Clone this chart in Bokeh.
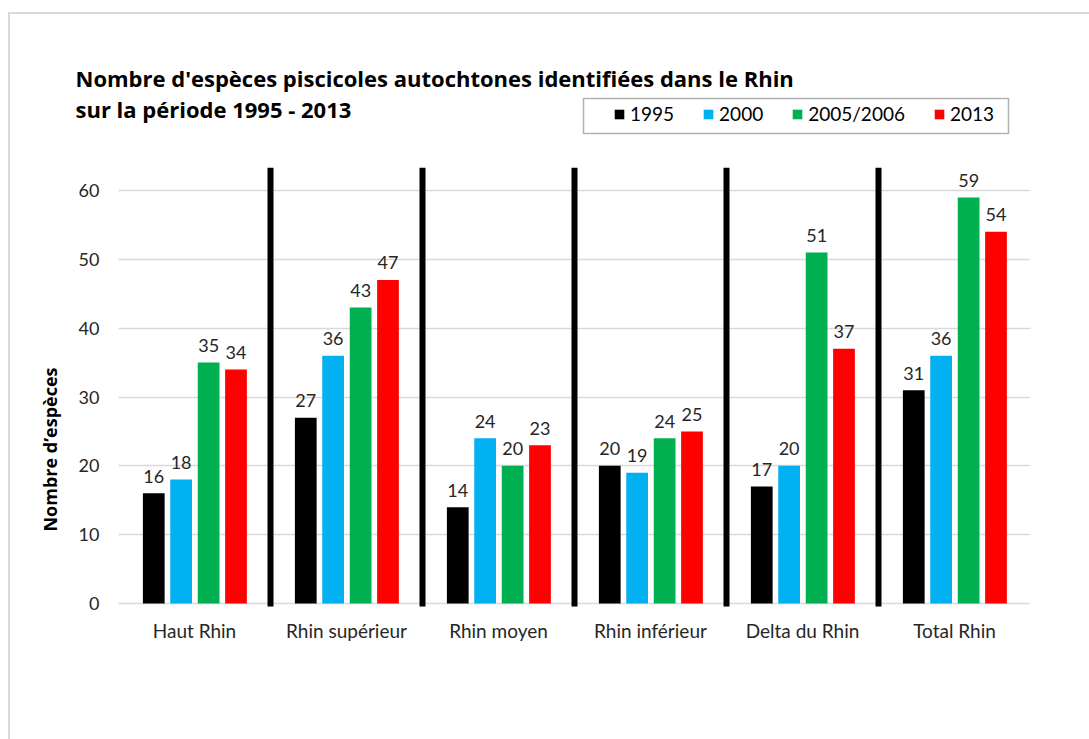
import math
import numpy as np
from bokeh.plotting import figure
from bokeh.models import (ColumnDataSource, Range1d, FixedTicker, Legend, LegendItem,
                          Label, BoxAnnotation)
from bokeh.core.properties import value
from bokeh.embed import file_html
from bokeh.resources import INLINE

categories = ["Haut Rhin", "Rhin supérieur", "Rhin moyen", "Rhin inférieur", "Delta du Rhin", "Total Rhin"]
series_names = ["1995", "2000", "2005/2006", "2013"]
v1995 = [16, 27, 14, 20, 17, 31]
v2000 = [18, 36, 24, 19, 20, 36]
v2005 = [35, 43, 20, 24, 51, 59]
v2013 = [34, 47, 23, 25, 37, 54]
y_ticks = [0, 10, 20, 30, 40, 50, 60]
colors = ["#000000", "#00B0F0", "#00B050", "#FF0000"]
title_lines = ["Nombre d'espèces piscicoles autochtones identifiées dans le Rhin",
               "sur la période 1995 - 2013"]
y_title = "Nombre d\u2019espèces"

FONT = "Lato"
TFONT = "Open Sans"
series = [v1995, v2000, v2005, v2013]

W, H = 1089, 739
FL, FR, FT, FB = 34, 1030, 5, 650      # frame edges (px)
X0 = 118                                # left edge of first category (px)
CAT_W = (FR - X0) / len(categories)     # px per category
PX_PER_UNIT = 6.883                     # px per y unit
Y0_PX = 603                             # pixel row of y=0
AXIS_PX = 606                           # pixel row of the category axis

x_start = -(X0 - FL) / CAT_W
x_end = (FR - X0) / CAT_W
y_start = -(FB - Y0_PX) / PX_PER_UNIT
y_end = (Y0_PX - FT) / PX_PER_UNIT
y_axis_val = -(AXIS_PX - Y0_PX) / PX_PER_UNIT

p = figure(width=W, height=H, output_backend="svg", toolbar_location=None,
           x_range=Range1d(x_start, x_end), y_range=Range1d(y_start, y_end),
           min_border_left=FL, min_border_right=W - FR, min_border_top=FT, min_border_bottom=H - FB)
p.outline_line_color = None
p.background_fill_color = None
p.border_fill_color = None
p.styles = {"background": "linear-gradient(#d9d9d9,#d9d9d9) 8px 12px / 2px 3000px no-repeat, "
                          "linear-gradient(#d9d9d9,#d9d9d9) 8px 12px / 3000px 2px no-repeat, white"}

centers = np.arange(len(categories)) + 0.5

# separators between groups
sep_x = np.arange(1, len(categories))
p.segment(x0=sep_x, x1=sep_x, y0=y_axis_val, y1=63.3, line_color="black", line_width=6, line_cap="butt")

offsets = [-0.268, -0.088, 0.093, 0.273]
renderers = []
for i, (off, col, vals) in enumerate(zip(offsets, colors, series)):
    src = ColumnDataSource(dict(x=centers + off, top=vals, lbl=[str(v) for v in vals]))
    r = p.vbar(x="x", top="top", width=0.143, bottom=0, source=src, fill_color=col, line_color=None)
    renderers.append(r)
    p.text(x="x", y="top", text="lbl", source=src,
           text_align="center", text_baseline="alphabetic", y_offset=-17,
           text_font=value(FONT), text_font_size="18px", text_color="#262626")

# y axis
p.yaxis.ticker = FixedTicker(ticks=y_ticks)
p.yaxis.fixed_location = (109 - X0) / CAT_W
p.yaxis.axis_line_color = None
p.yaxis.major_tick_line_color = None
p.yaxis.minor_tick_line_color = None
p.yaxis.major_tick_out = 0
p.yaxis.major_tick_in = 0
p.yaxis.major_label_standoff = 10
p.yaxis.major_label_text_font = FONT
p.yaxis.major_label_text_font_size = "18px"
p.yaxis.major_label_text_color = "#262626"

# x axis (categories)
p.xaxis.ticker = FixedTicker(ticks=list(centers))
p.xaxis.fixed_location = y_axis_val
p.xaxis.major_label_overrides = {float(c): name for c, name in zip(centers, categories)}
p.xaxis.axis_line_color = None
p.xaxis.major_tick_line_color = None
p.xaxis.minor_tick_line_color = None
p.xaxis.major_tick_out = 0
p.xaxis.major_tick_in = 0
p.xaxis.major_label_standoff = 12
p.xaxis.major_label_text_font = FONT
p.xaxis.major_label_text_font_size = "19px"
p.xaxis.major_label_text_color = "#262626"

p.xgrid.grid_line_color = None
p.ygrid.grid_line_color = "#d9d9d9"
p.ygrid.grid_line_width = 1.5
p.ygrid.cross_bounds = (0, len(categories))

# title lines
p.add_layout(Label(x=75 - FL, y=FB - 77, x_units="screen", y_units="screen", text=title_lines[0],
                   text_font=TFONT, text_font_style="bold", text_font_size="22px",
                   text_color="black", text_baseline="alphabetic"))
p.add_layout(Label(x=75 - FL, y=FB - 108, x_units="screen", y_units="screen", text=title_lines[1],
                   text_font=TFONT, text_font_style="bold", text_font_size="22px",
                   text_color="black", text_baseline="alphabetic"))
# y axis title
p.add_layout(Label(x=49 - FL, y=FB - 449, x_units="screen", y_units="screen", text=y_title, angle=math.pi / 2,
                   text_font=TFONT, text_font_style="bold", text_font_size="18px",
                   text_color="black", text_align="center", text_baseline="middle"))

# legend
legend = Legend(items=[LegendItem(label=n, renderers=[r]) for n, r in zip(series_names, renderers)],
                orientation="horizontal", location=(613 - FL, FB - 125), padding=0, spacing=28,
                glyph_width=12, glyph_height=12, label_standoff=5, label_height=20,
                label_text_font=FONT, label_text_font_size="19px", label_text_color="black",
                border_line_color=None, background_fill_alpha=0)
p.add_layout(legend, "center")
p.add_layout(BoxAnnotation(left=583 - FL, right=1008 - FL, bottom=FB - 133, top=FB - 98,
                           left_units="screen", right_units="screen", top_units="screen", bottom_units="screen",
                           fill_alpha=0, line_color="black", line_width=1.5))

open("out.html", "w").write(file_html(p, INLINE))
